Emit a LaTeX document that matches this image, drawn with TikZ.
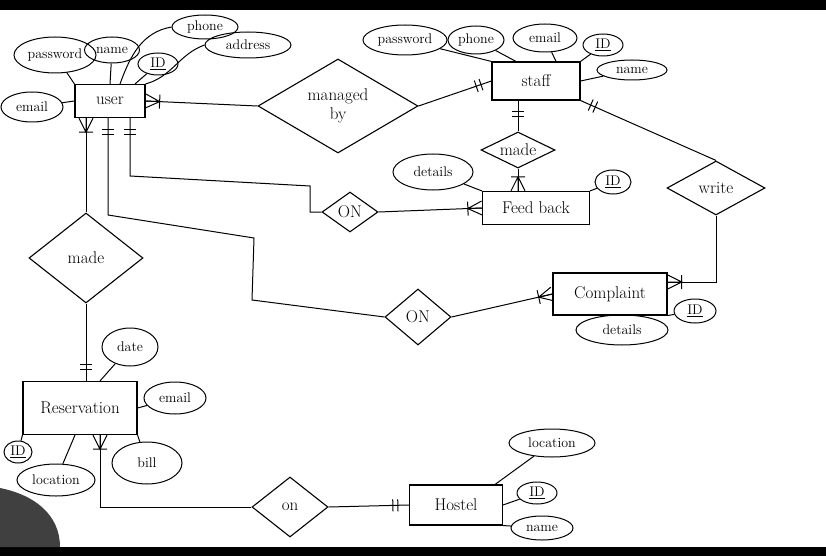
\documentclass[tikz,border=0pt]{standalone}
\usepackage{tikz}
\usetikzlibrary{calc,shapes, shapes.geometric}
\usetikzlibrary{decorations.markings}
\tikzset{>=latex}
\tikzstyle{entity} = [draw, rectangle, line width = 1.1, inner sep = 2pt, font = \fontsize{17}{19}\selectfont]
\tikzstyle{attr} = [draw, ellipse, line width = 1, inner sep = 0pt, font = \fontsize{14}{16}\selectfont]
\tikzstyle{rel} = [draw, diamond, line width = 1.1, inner sep = 0pt, shape aspect = 2, font = \fontsize{17}{19}\selectfont, align = center]
\tikzstyle{link} = [line width = 1]
\tikzstyle{onebar} = [%
					postaction = decorate,
					decoration={markings, mark=at position 0.1pt with {\draw[line width = 1] (11pt,-6pt) -- (11pt,6pt) (16pt,-6pt) -- (16pt,6pt);}}
					]
\tikzstyle{crowfoot} = [%
					postaction = decorate,
					decoration={markings, mark=at position 0.1pt with {\draw[line width = 1] (0pt,-7pt) -- (14pt,0pt) -- (0pt,7pt) (0pt,0pt) -- (14pt,0pt) (14pt,-7pt) -- (14pt,7pt);}}
					]

\begin{document}
\begin{tikzpicture}[x=1pt, y=-1pt, line width=1pt]

	% Paper
	\useasboundingbox (0,0) rectangle (826,556);
	\fill[white] (0,0) rectangle (826,556);
	\fill[black] (0,0) rectangle (826,10);
	\fill[black] (0,547) rectangle (826,556);
	\fill[black!75] (0,488) .. controls (35,495) and (60,515) .. (60,547) -- (0,547) -- cycle;

	% Entities
	\node[entity, minimum width=70, minimum height=33] (user) at (110,101) {user};
	\node[entity, minimum width=88, minimum height=38] (staff) at (536,81) {staff};
	\node[entity, minimum width=107, minimum height=33] (feedback) at (536,208) {Feed back};
	\node[entity, minimum width=114, minimum height=42] (complaint) at (610,294) {Complaint};
	\node[entity, minimum width=114, minimum height=53] (reservation) at (80,408) {Reservation};
	\node[entity, minimum width=93, minimum height=40] (hostel) at (456,505) {Hostel};

	% Relationships
	\node[rel, minimum width=160, minimum height=94] (mgd) at (338,106) {managed\\by};
	\node[rel, minimum width=74, minimum height=36] (madeS) at (518,150) {made};
	\node[rel, minimum width=98, minimum height=54] (write) at (716,188) {write};
	\node[rel, minimum width=56, minimum height=40] (onF) at (350,212) {ON};
	\node[rel, minimum width=66, minimum height=56] (onC) at (418,317) {ON};
	\node[rel, minimum width=114, minimum height=90] (madeR) at (86,258) {made};
	\node[rel, minimum width=76, minimum height=60] (onH) at (290,507) {on};

	% Attributes of user
	\node[attr, minimum width=82, minimum height=36] (uPass) at (55,55) {password};
	\node[attr, minimum width=55, minimum height=26] (uName) at (112,50) {name};
	\node[attr, minimum width=66, minimum height=24] (uPhone) at (205,27) {phone};
	\node[attr, minimum width=40, minimum height=22] (uID) at (158,64) {\underline{ID}};
	\node[attr, minimum width=86, minimum height=26] (uAddr) at (248,45) {address};
	\node[attr, minimum width=62, minimum height=30] (uEmail) at (32,107) {email};

	% Attributes of staff
	\node[attr, minimum width=84, minimum height=30] (sPass) at (405,40) {password};
	\node[attr, minimum width=56, minimum height=28] (sPhone) at (476,40) {phone};
	\node[attr, minimum width=64, minimum height=28] (sEmail) at (545,38) {email};
	\node[attr, minimum width=40, minimum height=22] (sID) at (603,45) {\underline{ID}};
	\node[attr, minimum width=70, minimum height=20] (sName) at (632,70) {name};

	% Attributes of feed back and complaint
	\node[attr, minimum width=80, minimum height=36] (fDet) at (433,172) {details};
	\node[attr, minimum width=36, minimum height=24] (fID) at (613,182) {\underline{ID}};
	\node[attr, minimum width=92, minimum height=30] (cDet) at (622,330) {details};
	\node[attr, minimum width=42, minimum height=24] (cID) at (695,311) {\underline{ID}};

	% Attributes of reservation
	\node[attr, minimum width=56, minimum height=38] (rDate) at (130,347) {date};
	\node[attr, minimum width=62, minimum height=32] (rEmail) at (175,398) {email};
	\node[attr, minimum width=70, minimum height=42] (rBill) at (147,463) {bill};
	\node[attr, minimum width=78, minimum height=32] (rLoc) at (56,480) {location};
	\node[attr, minimum width=28, minimum height=22] (rID) at (18,452) {\underline{ID}};

	% Attributes of hostel
	\node[attr, minimum width=86, minimum height=28] (hLoc) at (552,443) {location};
	\node[attr, minimum width=40, minimum height=22] (hID) at (537,493) {\underline{ID}};
	\node[attr, minimum width=62, minimum height=24] (hName) at (542,528) {name};

	% Attribute lines
	\draw[link] (uPass) -- (user.north west);
	\draw[link] (uName) -- (user.north);
	\draw[link] ([xshift=10pt]user.north) to[out=70,in=190] (uPhone.west);
	\draw[link] ([xshift=25pt]user.north) -- (uID);
	\draw[link] (user.north east) to[out=15,in=200] (uAddr.west);
	\draw[link] (uEmail) -- (user.west);
	\draw[link] (sPass) -- (staff.north west);
	\draw[link] (sPhone) -- ([xshift=-20pt]staff.north);
	\draw[link] (sEmail) -- ([xshift=20pt]staff.north);
	\draw[link] (sID) -- (staff.north east);
	\draw[link] (sName) -- (staff.east);
	\draw[link] (fDet) -- (feedback.north west);
	\draw[link] (fID) -- (feedback.north east);
	\draw[link] (cDet) -- (complaint.south);
	\draw[link] (cID) -- (complaint.south east);
	\draw[link] (rDate) -- ([xshift=20pt]reservation.north);
	\draw[link] (rEmail) -- (reservation.east);
	\draw[link] (rBill) -- (reservation.south east);
	\draw[link] (rLoc) -- ([xshift=-5pt]reservation.south);
	\draw[link] (rID) -- (reservation.south west);
	\draw[link] (hLoc) -- ([xshift=-8pt]hostel.north east);
	\draw[link] (hID) -- (hostel.east);
	\draw[link] (hName) -- (hostel.south east);

	% Relationship lines
	\draw[link, crowfoot] (user.east) -- (mgd.west);
	\draw[link, onebar] (staff.west) -- (mgd.east);
	\draw[link, onebar] (staff.south -| madeS.north) -- (madeS.north);
	\draw[link, crowfoot] (feedback.north -| madeS.south) -- (madeS.south);
	\draw[link, onebar] ([xshift=20pt]user.south) -- (130,176) -- (310,186) |- (onF.west);
	\draw[link, crowfoot] (feedback.west) -- (onF.east);
	\draw[link, onebar] (staff.south east) -- (write.north);
	\draw[link, crowfoot] ([yshift=12pt]complaint.east) -| (write.south);
	\draw[link, onebar] ([xshift=-2pt]user.south) -- (108,215) -- (254,238) -- (252,300) -- (onC.west);
	\draw[link, crowfoot] (complaint.west) -- (onC.east);
	\draw[link, crowfoot] (user.south -| madeR.north) -- (madeR.north);
	\draw[link, onebar] (reservation.north -| madeR.south) -- (madeR.south);
	\draw[link, crowfoot] ([xshift=20pt]reservation.south) |- (onH.west);
	\draw[link, onebar] (hostel.west) -- (onH.east);

\end{tikzpicture}
\end{document}
